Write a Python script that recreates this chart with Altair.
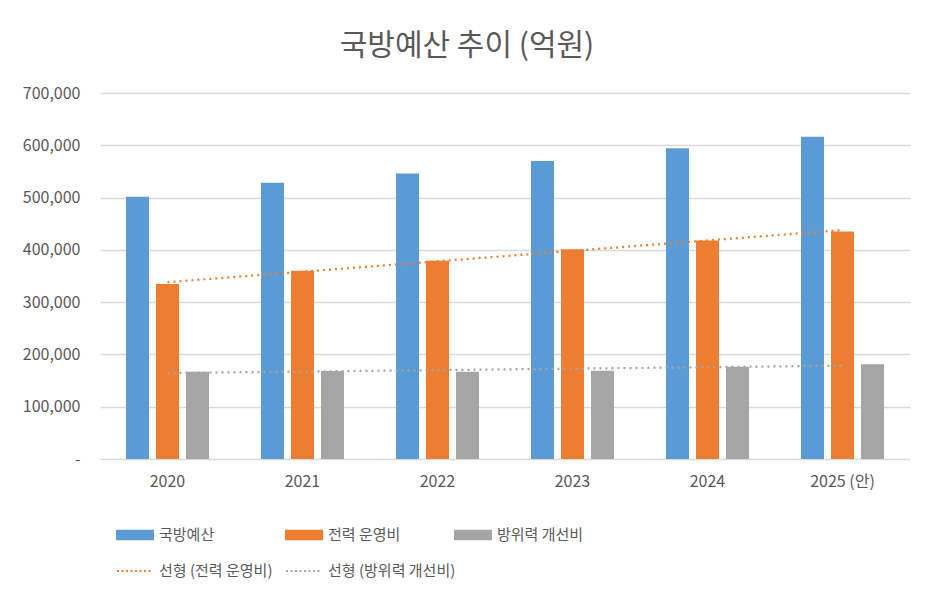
import altair as alt
import pandas as pd

# ---- data ----
years = ["2020", "2021", "2022", "2023", "2024", "2025 (안)"]
series_names = ["국방예산", "전력 운영비", "방위력 개선비"]
defense_budget = [501527, 528401, 546112, 570143, 594244, 616489]
force_operation = [334723, 359997, 379195, 401345, 418005, 435162]
force_improvement = [166804, 168404, 166917, 168798, 176239, 181327]
trend_names = ["선형 (전력 운영비)", "선형 (방위력 개선비)"]
y_ticks = [0, 100000, 200000, 300000, 400000, 500000, 600000, 700000]

bar_colors = ["#5B9BD5", "#ED7D31", "#A5A5A5"]
trend_colors = ["#ED7D31", "#A5A5A5"]
FONT = "Noto Sans CJK KR"
TXT = "#595959"
GRID = "#D9D9D9"

rows = []
for i, yr in enumerate(years):
    for name, vals in zip(series_names, [defense_budget, force_operation, force_improvement]):
        rows.append({"year": yr, "idx": i, "series": name, "value": vals[i]})
df = pd.DataFrame(rows)

base = alt.Chart(df)

bars = base.mark_bar().encode(
    x=alt.X(
        "year:N", sort=years, title=None,
        scale=alt.Scale(paddingInner=0.385, paddingOuter=0.1925),
        axis=alt.Axis(labelAngle=0, ticks=False, domain=False, labelPadding=14,
                      labelFontSize=16, labelColor=TXT, labelFont=FONT),
    ),
    xOffset=alt.XOffset(
        "series:N", sort=series_names,
        scale=alt.Scale(domain=series_names, paddingInner=0.233, paddingOuter=0),
    ),
    y=alt.Y(
        "value:Q", title=None,
        scale=alt.Scale(domain=[0, 700000], nice=False),
        axis=alt.Axis(values=y_ticks,
                      labelExpr="datum.value == 0 ? '-' : format(datum.value, ',')",
                      ticks=False, domain=False, labelPadding=20,
                      labelFontSize=16, labelColor=TXT, labelFont=FONT,
                      gridColor=GRID, gridWidth=1.3),
    ),
    color=alt.Color(
        "series:N",
        scale=alt.Scale(domain=series_names, range=bar_colors),
        legend=alt.Legend(
            title=None, orient="none", legendX=16, legendY=423,
            direction="horizontal", columns=3, gridAlign="all", columnPadding=39,
            symbolType="M-1,-0.27H1V0.27H-1Z", symbolSize=1444, symbolStrokeWidth=0,
            symbolOpacity=1,
            labelFontSize=15, labelColor=TXT, labelFont=FONT, labelOffset=5, padding=0,
        ),
    ),
)

trend = base.transform_filter(
    alt.FieldOneOfPredicate(field="series", oneOf=series_names[1:])
).transform_calculate(
    trend="'선형 (' + datum.series + ')'"
).transform_regression(
    "idx", "value", groupby=["trend"]
).mark_line(strokeDash=[2, 4], strokeWidth=2.25).encode(
    x=alt.X("idx:Q", scale=alt.Scale(domain=[-0.5, 5.5], nice=False, zero=False), axis=None),
    y=alt.Y("value:Q"),
    color=alt.Color(
        "trend:N",
        scale=alt.Scale(domain=trend_names, range=trend_colors),
        legend=alt.Legend(
            title=None, orient="none", legendX=16, legendY=459,
            direction="horizontal", columns=2, gridAlign="each", columnPadding=9,
            symbolType="stroke", symbolSize=1296, symbolDash=[2, 2.5], symbolStrokeWidth=2,
            labelFontSize=15, labelColor=TXT, labelFont=FONT, labelOffset=5, padding=0,
        ),
    ),
)

chart = alt.layer(bars, trend).resolve_scale(
    x="independent", color="independent"
).properties(
    width=810, height=366,
    background="white",
    padding={"left": 92, "top": 85, "right": 10, "bottom": 125},
    autosize=alt.AutoSizeParams(type="none"),
    title=alt.TitleParams("국방예산 추이 (억원)", fontSize=30, color=TXT, font=FONT,
                          fontWeight="normal", anchor="middle", dx=-38, offset=24),
).configure_view(stroke=None)

chart.save("out.html", embed_options={"renderer": "svg", "actions": False})
